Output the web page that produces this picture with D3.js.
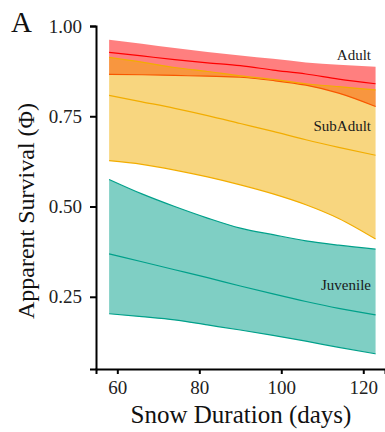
<html>
<head>
  <meta charset="UTF-8">
  <title>Apparent Survival vs Snow Duration</title>
  <script src="https://d3js.org/d3.v7.min.js"></script>
  <style>
    body { margin: 0; background: #fff; }
    text { font-family: "Liberation Serif", "Times New Roman", "DejaVu Serif", serif; }
  </style>
</head>
<body>
<div id="chart"></div>
<script>
// snow duration (days) where the curves were read
var days = [58, 66, 74, 82, 90, 98, 106, 114, 123];

// Adult
var adultUpper = [0.962, 0.951, 0.939, 0.928, 0.918, 0.909, 0.899, 0.893, 0.887];
var adultMean  = [0.927, 0.917, 0.907, 0.898, 0.890, 0.878, 0.867, 0.853, 0.840];
var adultLower = [0.866, 0.865, 0.863, 0.861, 0.858, 0.849, 0.836, 0.814, 0.777];

// SubAdult
var subUpper = [0.913, 0.900, 0.885, 0.874, 0.862, 0.852, 0.840, 0.832, 0.823];
var subMean  = [0.808, 0.790, 0.772, 0.752, 0.730, 0.708, 0.685, 0.664, 0.642];
var subLower = [0.627, 0.617, 0.601, 0.582, 0.560, 0.535, 0.505, 0.467, 0.410];

// Juvenile
var juvUpper = [0.575, 0.535, 0.500, 0.468, 0.440, 0.422, 0.405, 0.393, 0.382];
var juvMean  = [0.369, 0.347, 0.325, 0.303, 0.280, 0.258, 0.237, 0.218, 0.200];
var juvLower = [0.203, 0.195, 0.186, 0.172, 0.158, 0.143, 0.127, 0.110, 0.092];

var yTicks = [0.25, 0.50, 0.75, 1.00];
var xTicks = [60, 80, 100, 120];

var groups = [
  {name: "Adult",    color: "#FF0000", upper: adultUpper, mean: adultMean, lower: adultLower, upperLine: false, labelY: 0.905},
  {name: "SubAdult", color: "#F2AD00", upper: subUpper,   mean: subMean,   lower: subLower,   upperLine: true,  labelY: 0.71},
  {name: "Juvenile", color: "#00A08A", upper: juvUpper,   mean: juvMean,   lower: juvLower,   upperLine: true,  labelY: 0.27}
];

var width = 385, height = 432;

var svg = d3.select("#chart").append("svg")
  .attr("width", width)
  .attr("height", height);

var x = d3.scaleLinear().domain([54.8, 125.3]).range([96, 385]);
var y = d3.scaleLinear().domain([0.05, 1.0]).range([369, 26]);

var area = d3.area()
  .x(function(d) { return x(d.day); })
  .y0(function(d) { return y(d.lo); })
  .y1(function(d) { return y(d.hi); })
  .curve(d3.curveMonotoneX);

var line = d3.line()
  .x(function(d) { return x(d.day); })
  .y(function(d) { return y(d.v); })
  .curve(d3.curveMonotoneX);

groups.forEach(function(g) {
  var band = days.map(function(d, i) { return {day: d, lo: g.lower[i], hi: g.upper[i]}; });
  svg.append("path")
    .datum(band)
    .attr("d", area)
    .attr("fill", g.color)
    .attr("fill-opacity", 0.5);

  var series = [g.mean, g.lower];
  if (g.upperLine) series.push(g.upper);
  series.forEach(function(s) {
    svg.append("path")
      .datum(days.map(function(d, i) { return {day: d, v: s[i]}; }))
      .attr("d", line)
      .attr("fill", "none")
      .attr("stroke", g.color)
      .attr("stroke-width", 1.2);
  });
});

// labels
groups.forEach(function(g) {
  svg.append("text")
    .attr("x", 371)
    .attr("y", y(g.labelY))
    .attr("text-anchor", "end")
    .attr("font-size", "15px")
    .attr("fill", "#1a1a1a")
    .text(g.name);
});

// axes
var yAxis = d3.axisLeft(y).tickValues(yTicks).tickFormat(d3.format(".2f")).tickSizeOuter(0).tickSize(6).tickPadding(8);
var xAxis = d3.axisBottom(x).tickValues(xTicks).tickSizeOuter(0).tickSize(5).tickPadding(7);

var gy = svg.append("g").attr("transform", "translate(96,0)").call(yAxis);
var gx = svg.append("g").attr("transform", "translate(0,369)").call(xAxis);

[gx, gy].forEach(function(g) {
  g.select(".domain").attr("stroke", "#000").attr("stroke-width", 2);
  g.selectAll(".tick line").attr("stroke", "#000").attr("stroke-width", 2);
  g.selectAll(".tick text")
    .attr("fill", "#222")
    .style("font-family", "'Liberation Serif', 'Times New Roman', serif")
    .style("font-size", "19px");
});

// axis titles
svg.append("text")
  .attr("x", 241)
  .attr("y", 423)
  .attr("text-anchor", "middle")
  .attr("font-size", "25px")
  .attr("fill", "#111")
  .text("Snow Duration (days)");

svg.append("text")
  .attr("transform", "translate(34,211) rotate(-90)")
  .attr("text-anchor", "middle")
  .attr("font-size", "24px")
  .attr("fill", "#111")
  .text("Apparent Survival (\u03A6)");

svg.append("text")
  .attr("x", 11)
  .attr("y", 32)
  .attr("font-size", "29px")
  .attr("fill", "#111")
  .text("A");
</script>
</body>
</html>
